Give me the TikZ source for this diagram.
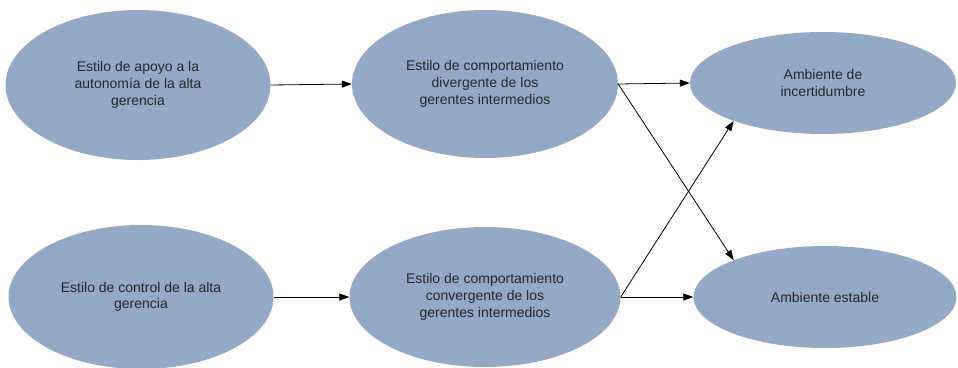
\documentclass[tikz,border=0pt]{standalone}
\usepackage{fontspec}
\setmainfont{Liberation Sans}
\usetikzlibrary{shapes.geometric,arrows.meta}
\definecolor{ellfill}{RGB}{148,169,200}
\definecolor{txt}{RGB}{38,38,38}
\tikzset{
  oval/.style={ellipse, fill=ellfill, inner sep=0pt, align=center,
    text=txt, font=\fontsize{14pt}{16.7pt}\selectfont},
  link/.style={draw=black, line width=0.8pt, -{Triangle[length=10pt,width=7pt]}}
}
\begin{document}
\begin{tikzpicture}[x=1pt,y=-1pt]
\useasboundingbox (0,0) rectangle (958,367);
\node[oval, minimum width=265pt, minimum height=150pt] (a) at (138,85)
  {Estilo de apoyo a la\\autonomía de la alta\\gerencia};
\node[oval, minimum width=266pt, minimum height=148pt] (b) at (485,84)
  {Estilo de comportamiento\\divergente de los\\gerentes intermedios};
\node[oval, minimum width=266pt, minimum height=102pt] (c) at (823,83)
  {Ambiente de\\incertidumbre};
\node[oval, minimum width=265pt, minimum height=144pt] (d) at (141,297)
  {Estilo de control de la alta\\gerencia};
\node[oval, minimum width=271pt, minimum height=140pt] (e) at (485,297)
  {Estilo de comportamiento\\convergente de los\\gerentes intermedios};
\node[oval, minimum width=263pt, minimum height=102pt] (f) at (825,297)
  {Ambiente estable};
\draw[link] (a.east) -- (b.west);
\draw[link] (b.east) -- (c.west);
\draw[link] (b.east) -- (f.158);
\draw[link] (d.east) -- (e.west);
\draw[link] (e.east) -- (c.203);
\draw[link] (e.east) -- (f.west);
\end{tikzpicture}
\end{document}
